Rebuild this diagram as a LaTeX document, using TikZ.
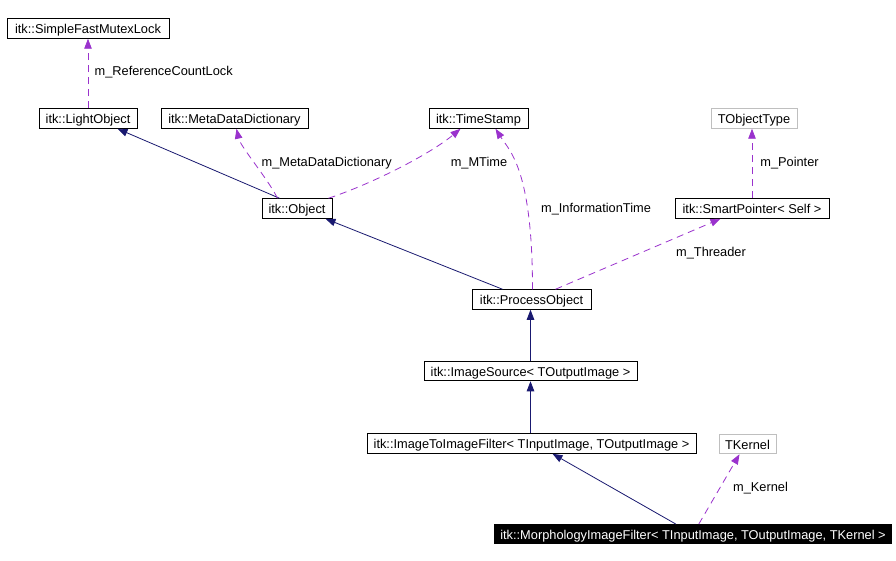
\documentclass[tikz,border=0pt]{standalone}
\usepackage{fontspec}
\setmainfont{Liberation Sans}
\usetikzlibrary{arrows.meta}
\definecolor{navyline}{HTML}{191970}
\definecolor{orchidline}{HTML}{9A32CD}
\definecolor{tmplgray}{HTML}{BFBFBF}
\begin{document}
\begin{tikzpicture}[x=1pt,y=-1pt,
  every node/.style={font=\fontsize{12.8}{14}\selectfont},
  boxbase/.style={inner sep=0pt, minimum height=19.5pt, text height=10.6pt, text depth=0pt},
  cls/.style={boxbase, draw=black, line width=1pt, fill=white},
  tmpl/.style={boxbase, draw=tmplgray, line width=1pt, fill=white},
  focus/.style={boxbase, fill=black, text=white},
  inherit/.style={navyline, line width=0.8pt, -{Triangle[length=10pt,width=7.5pt]}},
  uses/.style={orchidline, line width=0.8pt, dash pattern=on 7pt off 5pt, -{Triangle[length=10pt,width=7.5pt]}},
  lbl/.style={inner sep=0pt, text=black}]
\useasboundingbox[fill=white] (0,0) rectangle (896,561);

% classes
\node[cls, minimum width=162pt] (mutex) at (88,28.5) {itk::SimpleFastMutexLock};
\node[cls, minimum width=98pt] (light) at (88,118.5) {itk::LightObject};
\node[cls, minimum width=147pt] (meta) at (234.5,118.5) {itk::MetaDataDictionary};
\node[cls, minimum width=99pt] (time) at (478.5,118.5) {itk::TimeStamp};
\node[tmpl, minimum width=86pt] (tobj) at (754,118.5) {TObjectType};
\node[cls, minimum width=70pt] (obj) at (297,208.5) {itk::Object};
\node[cls, minimum width=154pt] (smart) at (752,208.5) {itk::SmartPointer< Self >};
\node[cls, minimum width=119pt] (process) at (531.5,299.5) {itk::ProcessObject};
\node[cls, minimum width=213pt] (imgsrc) at (530.5,371) {itk::ImageSource< TOutputImage >};
\node[cls, minimum width=329pt] (i2i) at (531.5,443.5) {itk::ImageToImageFilter< TInputImage, TOutputImage >};
\node[tmpl, minimum width=57pt] (tkernel) at (747.5,444) {TKernel};
\node[focus, minimum width=398pt] (morph) at (693,534) {itk::MorphologyImageFilter< TInputImage, TOutputImage, TKernel >};

% inheritance
\draw[inherit] ([xshift=18pt]obj.north west) -- ([xshift=-20pt]light.south east);
\draw[inherit] ([xshift=31pt]process.north west) -- ([xshift=-7pt]obj.south east);
\draw[inherit] (imgsrc.north) -- (imgsrc.north |- process.south);
\draw[inherit] (imgsrc.north |- i2i.north) -- (imgsrc.south);
\draw[inherit] ([xshift=182pt]morph.north west) -- ([xshift=186pt]i2i.south west);

% usage
\draw[uses] (light.north) -- (mutex.south);
\draw[uses] ([xshift=16pt]obj.north west) .. controls +(-10,-20) and +(4,18) .. ([xshift=76pt]meta.south west);
\draw[uses] ([xshift=-4pt]obj.north east) .. controls +(45,-15) and +(-30,25) .. ([xshift=32pt]time.south west);
\draw[uses] ([xshift=61pt]process.north west) .. controls +(0,-120) and +(14,22) .. ([xshift=67pt]time.south west);
\draw[uses] ([xshift=84pt]process.north west) -- ([xshift=46pt]smart.south west);
\draw[uses] (smart.north) -- (smart.north |- tobj.south);
\draw[uses] ([xshift=205pt]morph.north west) -- ([xshift=21pt]tkernel.south west);

% labels
\node[lbl] (lref) at (163.7,72.3) {m\_ReferenceCountLock};
\node[lbl] (lmeta) at (326.7,163) {m\_MetaDataDictionary};
\node[lbl] (lmtime) at (479,163) {m\_MTime};
\node[lbl] (linfo) at (596,209) {m\_InformationTime};
\node[lbl] (lthr) at (711,253) {m\_Threader};
\node[lbl] (lptr) at (789.5,163) {m\_Pointer};
\node[lbl] (lker) at (760.5,488) {m\_Kernel};
\end{tikzpicture}
\end{document}
